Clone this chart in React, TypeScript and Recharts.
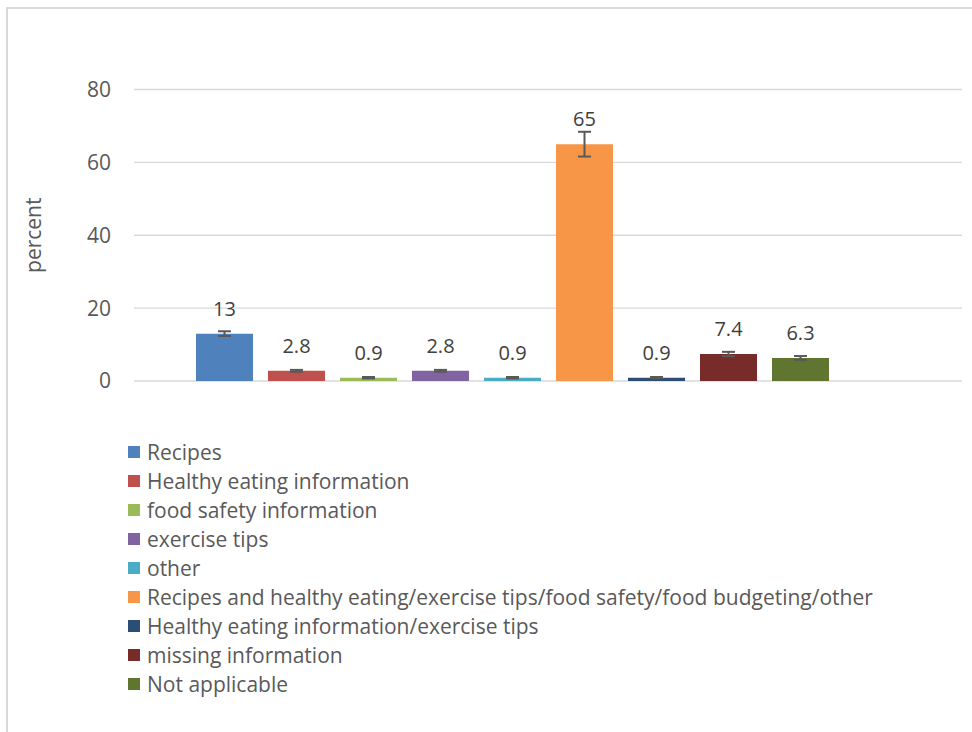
import React from "react"
import { Bar, BarChart, CartesianGrid, ErrorBar, LabelList, Legend, XAxis, YAxis } from "recharts"

const seriesNames = [
  "Recipes",
  "Healthy eating information",
  "food safety information",
  "exercise tips",
  "other",
  "Recipes and healthy eating/exercise tips/food safety/food budgeting/other",
  "Healthy eating information/exercise tips",
  "missing information",
  "Not applicable",
]
const seriesValues = [13, 2.8, 0.9, 2.8, 0.9, 65, 0.9, 7.4, 6.3]
const seriesErrors = [0.65, 0.25, 0.2, 0.25, 0.2, 3.4, 0.2, 0.6, 0.55]
const seriesColors = [
  "#4F81BD",
  "#C0504D",
  "#9BBB59",
  "#8064A2",
  "#4BACC6",
  "#F79646",
  "#2C4D75",
  "#772C2A",
  "#5F7530",
]
const yTicks = [0, 20, 40, 60, 80]

// one category, one series per answer (like the Excel original)
const row: Record<string, number | string> = { name: "" }
seriesValues.forEach((v, i) => {
  row[`s${i}`] = v
  row[`e${i}`] = seriesErrors[i]
})
const data = [row]

const FONT = "'Open Sans', sans-serif"

const renderLegend = (props: any) => {
  // keep the series order instead of the alphabetical one
  const items = [...(props.payload || [])].sort(
    (a: any, b: any) => seriesNames.indexOf(a.value) - seriesNames.indexOf(b.value)
  )
  return (
    <div style={{ fontFamily: FONT }}>
      {items.map((entry: any) => (
        <div
          key={entry.value}
          style={{ display: "flex", alignItems: "center", height: 29, whiteSpace: "nowrap" }}
        >
          <span
            style={{ width: 12, height: 12, background: entry.color, display: "inline-block", marginRight: 7 }}
          />
          <span style={{ fontSize: 21, color: "#595959" }}>{entry.value}</span>
        </div>
      ))}
    </div>
  )
}

export default function App() {
  return (
    <div
      style={{
        position: "absolute",
        left: 0,
        top: 0,
        width: 972,
        height: 732,
        overflow: "hidden",
        background: "#fff",
        fontFamily: FONT,
      }}
    >
      <div
        style={{
          position: "absolute",
          left: 6,
          top: 7,
          width: 1000,
          height: 800,
          border: "2px solid #D9D9D9",
        }}
      />
      <BarChart
        width={972}
        height={732}
        data={data}
        margin={{ top: 89.5, right: 10, left: 0, bottom: 351 }}
        barGap={15}
        style={{ position: "absolute", left: 0, top: 0 }}
      >
        <CartesianGrid vertical={false} stroke="#D9D9D9" strokeWidth={1.4} />
        <XAxis dataKey="name" hide padding={{ left: 0, right: 72 }} />
        <YAxis
          width={134}
          domain={[0, 80]}
          ticks={yTicks}
          axisLine={false}
          tickLine={false}
          tickMargin={17}
          tick={{ fill: "#595959", fontSize: 21 }}
          label={{
            value: "percent",
            angle: -90,
            position: "insideLeft",
            offset: 34,
            style: { textAnchor: "middle", fill: "#595959", fontSize: 21 },
          }}
        />
        <Legend
          layout="vertical"
          align="center"
          verticalAlign="middle"
          content={renderLegend}
          wrapperStyle={{ left: 128, top: 437.5, width: 800, height: 270 }}
        />
        {seriesNames.map((name, i) => (
          <Bar
            key={name}
            name={name}
            dataKey={`s${i}`}
            fill={seriesColors[i]}
            barSize={57}
            isAnimationActive={false}
          >
            <ErrorBar dataKey={`e${i}`} width={6.5} stroke="#595959" strokeWidth={2} direction="y" />
            <LabelList dataKey={`s${i}`} position="top" offset={18} fill="#404040" fontSize={20} />
          </Bar>
        ))}
      </BarChart>
    </div>
  )
}
